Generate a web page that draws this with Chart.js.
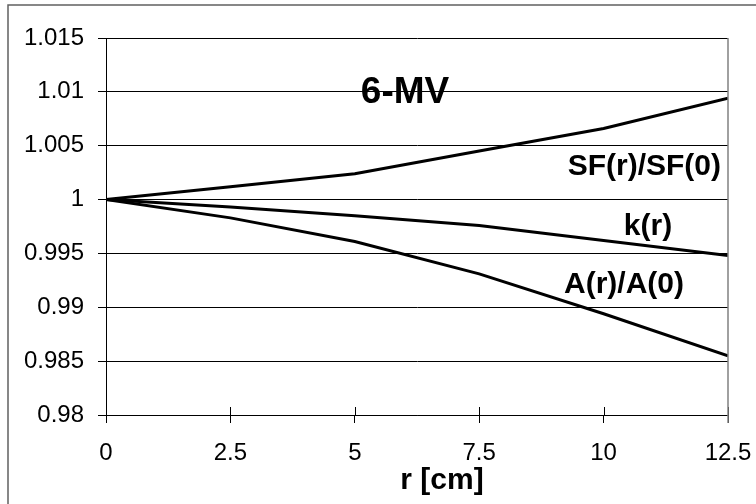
<!DOCTYPE html>
<html>
<head>
<meta charset="utf-8">
<script src="https://cdn.jsdelivr.net/npm/chart.js@4/dist/chart.umd.min.js"></script>
<style>
  html, body { margin: 0; padding: 0; background: #fff; }
  #wrap { width: 756px; height: 504px; position: relative; }
</style>
</head>
<body>
<div id="wrap"><canvas id="c"></canvas></div>
<script>
// ---- data ----
const radii = [0, 2.5, 5, 7.5, 10, 12.5];
const sfRatio = [1, 1.0012, 1.0024, 1.0045, 1.0066, 1.0094];
const kRatio = [1, 0.9993, 0.9985, 0.9976, 0.9962, 0.9948];
const aRatio = [1, 0.9983, 0.9961, 0.9931, 0.9894, 0.9855];
const seriesNames = ['SF(r)/SF(0)', 'k(r)', 'A(r)/A(0)'];
const xTickLabels = ['0', '2.5', '5', '7.5', '10', '12.5'];
const yTickLabels = ['0.98', '0.985', '0.99', '0.995', '1', '1.005', '1.01', '1.015'];
const chartTitle = '6-MV';
const xAxisTitle = 'r [cm]';

const FONT = '"Liberation Sans", Arial, sans-serif';

function pts(vals) { return radii.map((r, i) => ({ x: r, y: vals[i] })); }

const annot = {
  id: 'annot',
  afterDraw(chart) {
    const ctx = chart.ctx;
    const xs = chart.scales.x, ys = chart.scales.y;
    const top = ys.getPixelForValue(1.015);
    const bottom = ys.getPixelForValue(0.98);
    const right = xs.getPixelForValue(12.5);
    ctx.save();
    // inner half of x tick marks
    ctx.lineWidth = 1;
    ctx.strokeStyle = '#000';
    radii.forEach(r => {
      const px = Math.round(xs.getPixelForValue(r)) + 0.5;
      ctx.beginPath(); ctx.moveTo(px, bottom); ctx.lineTo(px, bottom - 8); ctx.stroke();
    });
    // right plot edge (gray)
    ctx.strokeStyle = '#808080';
    ctx.lineWidth = 1.5;
    ctx.beginPath(); ctx.moveTo(right, top); ctx.lineTo(right, bottom + 8); ctx.stroke();
    // outer frame
    ctx.strokeStyle = '#606060';
    ctx.lineWidth = 1.5;
    ctx.strokeRect(8, 5, 800, 600);
    // texts
    ctx.fillStyle = '#000';
    ctx.textBaseline = 'alphabetic';
    ctx.font = 'bold 37px ' + FONT;
    ctx.textAlign = 'center';
    ctx.fillText(chartTitle, 405, 103);
    ctx.font = 'bold 30px ' + FONT;
    ctx.textAlign = 'right';
    ctx.fillText(seriesNames[0], 721, 175);
    ctx.textAlign = 'center';
    ctx.fillText(seriesNames[1], 648, 235);
    ctx.fillText(seriesNames[2], 624, 293);
    ctx.fillText(xAxisTitle, 442, 489);
    ctx.restore();
  }
};

new Chart(document.getElementById('c'), {
  type: 'line',
  data: {
    datasets: [
      { label: seriesNames[0], data: pts(sfRatio) },
      { label: seriesNames[1], data: pts(kRatio) },
      { label: seriesNames[2], data: pts(aRatio) }
    ].map(d => Object.assign(d, {
      borderColor: '#000', backgroundColor: '#000', borderWidth: 3,
      pointRadius: 0, tension: 0, fill: false
    }))
  },
  options: {
    responsive: true,
    maintainAspectRatio: false,
    animation: false,
    layout: { padding: { top: 38, right: 28, left: 0, bottom: 0 } },
    plugins: { legend: { display: false }, tooltip: { enabled: false } },
    scales: {
      x: {
        type: 'linear', min: 0, max: 12.5,
        afterBuildTicks(s) { s.ticks = radii.map(v => ({ value: v })); },
        afterFit(s) { s.height = 89; s.paddingLeft = 0; s.paddingRight = 0; },
        ticks: {
          color: '#000', padding: 16, maxRotation: 0, autoSkip: false,
          font: { family: FONT, size: 24 },
          callback: (v) => xTickLabels[radii.indexOf(v)] ?? ''
        },
        grid: { drawOnChartArea: false, drawTicks: true, tickLength: 8, color: '#000', lineWidth: 1 },
        border: { display: true, color: '#000', width: 1 }
      },
      y: {
        type: 'linear', min: 0.98, max: 1.015,
        afterBuildTicks(s) { s.ticks = yTickLabels.map(t => ({ value: parseFloat(t) })); },
        afterFit(s) { s.width = 106; s.paddingTop = 0; s.paddingBottom = 0; },
        ticks: {
          color: '#000', padding: 14, autoSkip: false,
          font: { family: FONT, size: 24 },
          callback: (v) => { const i = yTickLabels.findIndex(t => Math.abs(parseFloat(t) - v) < 1e-9); return i >= 0 ? yTickLabels[i] : ''; }
        },
        grid: { drawOnChartArea: true, drawTicks: true, tickLength: 8, color: '#000', lineWidth: 1 },
        border: { display: true, color: '#000', width: 1 }
      }
    }
  },
  plugins: [annot]
});
</script>
</body>
</html>
